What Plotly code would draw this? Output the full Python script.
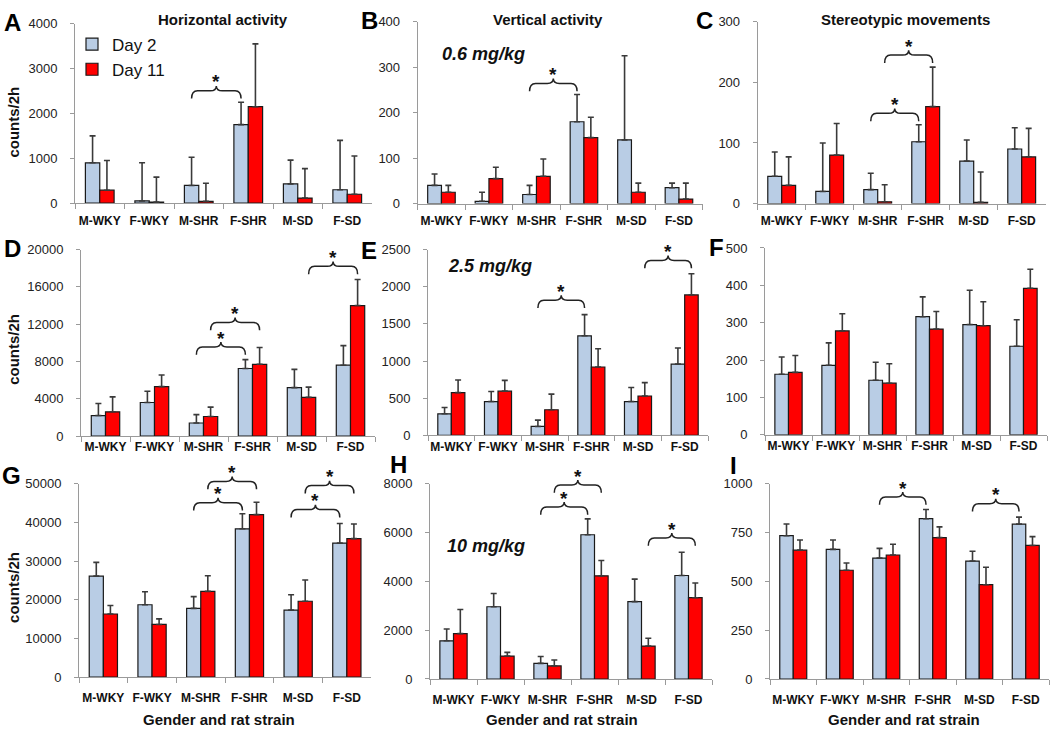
import plotly.graph_objects as go

# ---------------- data ----------------
categories = ["M-WKY", "F-WKY", "M-SHR", "F-SHR", "M-SD", "F-SD"]
series_names = ["Day 2", "Day 11"]

# A: Horizontal activity, 0.6 mg/kg
hor06_day2 = [900, 50, 395, 1750, 430, 300]
hor06_day2_err = [600, 850, 630, 500, 530, 1100]
hor06_day11 = [290, 25, 40, 2150, 115, 200]
hor06_day11_err = [660, 555, 405, 1400, 655, 850]

# B: Vertical activity, 0.6 mg/kg
ver06_day2 = [40, 5, 20, 180, 140, 35]
ver06_day2_err = [25, 20, 20, 60, 185, 10]
ver06_day11 = [25, 55, 60, 145, 25, 10]
ver06_day11_err = [15, 25, 38, 45, 20, 35]

# C: Stereotypic movements, 0.6 mg/kg
ste06_day2 = [45, 20, 23, 102, 70, 90]
ste06_day2_err = [40, 80, 27, 28, 35, 35]
ste06_day11 = [30, 80, 3, 160, 2, 77]
ste06_day11_err = [47, 52, 28, 65, 50, 47]

# D: Horizontal activity, 2.5 mg/kg
hor25_day2 = [2200, 3600, 1400, 7250, 5200, 7600]
hor25_day2_err = [1300, 1200, 900, 950, 1950, 2100]
hor25_day11 = [2600, 5300, 2100, 7700, 4150, 14000]
hor25_day11_err = [1600, 1250, 1000, 1800, 1100, 2800]

# E: Vertical activity, 2.5 mg/kg
ver25_day2 = [290, 455, 120, 1340, 455, 960]
ver25_day2_err = [85, 135, 85, 285, 190, 215]
ver25_day11 = [575, 595, 345, 920, 530, 1890]
ver25_day11_err = [170, 145, 210, 245, 180, 285]

# F: Stereotypic movements, 2.5 mg/kg
ste25_day2 = [162, 186, 146, 316, 295, 237]
ste25_day2_err = [46, 60, 48, 53, 92, 71]
ste25_day11 = [167, 278, 138, 283, 292, 392]
ste25_day11_err = [45, 46, 52, 47, 64, 51]

# G: Horizontal activity, 10 mg/kg
hor10_day2 = [26100, 18700, 17750, 38350, 17300, 34650]
hor10_day2_err = [3550, 3350, 3050, 3900, 4000, 5050]
hor10_day11 = [16300, 13600, 22150, 42000, 19600, 35800]
hor10_day11_err = [2200, 1450, 4050, 3200, 5500, 3800]

# H: Vertical activity, 10 mg/kg
ver10_day2 = [1565, 2960, 640, 5910, 3170, 4240]
ver10_day2_err = [480, 540, 280, 650, 920, 950]
ver10_day11 = [1860, 940, 535, 4225, 1350, 3330]
ver10_day11_err = [990, 150, 240, 630, 320, 600]

# I: Stereotypic movements, 10 mg/kg
ste10_day2 = [734, 664, 619, 821, 604, 793]
ste10_day2_err = [60, 48, 50, 47, 50, 36]
ste10_day11 = [660, 557, 635, 724, 483, 684]
ste10_day11_err = [52, 37, 55, 55, 89, 45]

y_max = {"A": 4000, "B": 400, "C": 300, "D": 20000, "E": 2500, "F": 500,
         "G": 50000, "H": 8000, "I": 1000}
y_step = {"A": 1000, "B": 100, "C": 100, "D": 4000, "E": 500, "F": 100,
          "G": 10000, "H": 2000, "I": 250}

panel_data = {
    "A": (hor06_day2, hor06_day2_err, hor06_day11, hor06_day11_err),
    "B": (ver06_day2, ver06_day2_err, ver06_day11, ver06_day11_err),
    "C": (ste06_day2, ste06_day2_err, ste06_day11, ste06_day11_err),
    "D": (hor25_day2, hor25_day2_err, hor25_day11, hor25_day11_err),
    "E": (ver25_day2, ver25_day2_err, ver25_day11, ver25_day11_err),
    "F": (ste25_day2, ste25_day2_err, ste25_day11, ste25_day11_err),
    "G": (hor10_day2, hor10_day2_err, hor10_day11, hor10_day11_err),
    "H": (ver10_day2, ver10_day2_err, ver10_day11, ver10_day11_err),
    "I": (ste10_day2, ste10_day2_err, ste10_day11, ste10_day11_err),
}

column_titles = ["Horizontal activity", "Vertical activity", "Stereotypic movements"]
dose_labels = ["0.6 mg/kg", "2.5 mg/kg", "10 mg/kg"]
y_title = "counts/2h"
x_title = "Gender and rat strain"

# significance comparisons: panel, (category, day) -> (category, day), level of brace ends
comparisons = [
    ("A", 2, 0, 3, 0, 2330),
    ("B", 2, 0, 3, 0, 247),
    ("C", 2, 0, 3, 0, 136), ("C", 2, 1, 3, 1, 232),
    ("D", 2, 0, 3, 0, 8720), ("D", 2, 1, 3, 1, 11350), ("D", 4, 1, 5, 1, 17370),
    ("E", 2, 0, 3, 0, 1714), ("E", 4, 1, 5, 1, 2250),
    ("G", 2, 0, 3, 0, 43080), ("G", 2, 1, 3, 1, 48580),
    ("G", 4, 0, 5, 0, 41300), ("G", 4, 1, 5, 1, 47500),
    ("H", 2, 0, 3, 0, 6730), ("H", 2, 1, 3, 1, 7630), ("H", 4, 1, 5, 1, 5460),
    ("I", 2, 0, 3, 0, 892), ("I", 4, 0, 5, 0, 858),
]

# ---------------- layout geometry (pixels) ----------------
W, H = 1050, 734
geo = {
    "A": (75, 372, 17, 200.3),
    "B": (417.7, 702.7, 15, 200.7),
    "C": (757.7, 1045.7, 15, 200.7),
    "D": (81, 375, 247.7, 438),
    "E": (428, 708, 247.7, 437.3),
    "F": (765, 1047, 246, 436.7),
    "G": (79, 371.2, 486.7, 684),
    "H": (430, 712, 486.7, 686),
    "I": (770, 1049, 486.7, 686),
}
label_standoff = {"A": 6, "B": 6, "C": 6, "D": 0, "E": 0, "F": 0,
                  "G": 10, "H": 10, "I": 10}
order = ["A", "B", "C", "D", "E", "F", "G", "H", "I"]

BLUE = "#B9CDE5"
RED = "#FF0000"
EDGE = "#1a1a1a"
ERRC = "#3a3a3a"
AXC = "#9a9a9a"
FONT = "Arial, Liberation Sans, sans-serif"
BARGAP = 0.42
HALF = (1 - BARGAP) / 4  # offset of each bar centre from category centre

fig = go.Figure()
layout_axes = {}

for n, key in enumerate(order, start=1):
    xa = "x" if n == 1 else f"x{n}"
    ya = "y" if n == 1 else f"y{n}"
    d2, d2e, d11, d11e = panel_data[key]
    for name, vals, errs, col in ((series_names[0], d2, d2e, BLUE),
                                  (series_names[1], d11, d11e, RED)):
        fig.add_trace(go.Bar(
            x=categories, y=vals, name=name, xaxis=xa, yaxis=ya,
            marker=dict(color=col, line=dict(color=EDGE, width=1.2)),
            error_y=dict(type="data", array=errs, symmetric=False,
                         arrayminus=[0] * len(errs), color=ERRC,
                         thickness=1.6, width=3),
            showlegend=(n == 1), legendgroup=name,
        ))
    x0, x1, yt, yb = geo[key]
    layout_axes["xaxis" if n == 1 else f"xaxis{n}"] = dict(
        domain=[x0 / W, x1 / W], anchor=ya, type="category",
        range=[-0.5, 5.5], showline=True, linecolor=AXC, linewidth=1,
        ticks="outside", tickson="boundaries", ticklen=5, tickcolor=AXC,
        tickangle=0, ticklabelstandoff=label_standoff[key],
        tickfont=dict(family=FONT, size=12, color="#111", weight="bold"),
        showgrid=False, zeroline=False, fixedrange=True,
    )
    layout_axes["yaxis" if n == 1 else f"yaxis{n}"] = dict(
        domain=[1 - yb / H, 1 - yt / H], anchor=xa,
        range=[0, y_max[key]], dtick=y_step[key], tick0=0, tickformat="d",
        showline=True, linecolor=AXC, linewidth=1,
        ticks="outside", ticklen=4, tickcolor=AXC,
        tickfont=dict(family=FONT, size=13, color="#222"),
        ticklabelstandoff=10,
        showgrid=False, zeroline=False, fixedrange=True,
    )


def data_px(key, xv, yv):
    x0, x1, yt, yb = geo[key]
    px = x0 + (xv + 0.5) / 6 * (x1 - x0)
    py = yb - yv / y_max[key] * (yb - yt)
    return px, py


def P(px, py):
    return f"{px / W:.5f},{1 - py / H:.5f}"


shapes = []
annotations = []
for key, c1, day1, c2, day2, level in comparisons:
    xl_v = c1 + (2 * day1 - 1) * HALF
    xr_v = c2 + (2 * day2 - 1) * HALF
    xl, yE = data_px(key, xl_v, level)
    xr, _ = data_px(key, xr_v, level)
    xm = (xl + xr) / 2
    yh = yE - 8
    yp = yh - 5
    r = 6
    path = (f"M{P(xl, yE)} Q{P(xl, yh)} {P(xl + r, yh)} L{P(xm - r, yh)} "
            f"Q{P(xm, yh)} {P(xm, yp)} Q{P(xm, yh)} {P(xm + r, yh)} "
            f"L{P(xr - r, yh)} Q{P(xr, yh)} {P(xr, yE)}")
    shapes.append(dict(type="path", path=path, xref="paper", yref="paper",
                       line=dict(color="#222", width=1.5)))
    annotations.append(dict(text="<b>*</b>", x=xm / W, y=1 - (yh - 9) / H,
                            xref="paper", yref="paper", showarrow=False,
                            xanchor="center", yanchor="middle",
                            font=dict(family=FONT, size=19, color="#111")))

# panel letters
letter_pos = {"A": (12, 16), "B": (369, 14), "C": (704, 14), "D": (12, 247),
              "E": (369, 249), "F": (716, 246), "G": (11, 478), "H": (398, 467),
              "I": (733, 468)}
for key, (px, py) in letter_pos.items():
    annotations.append(dict(text=f"<b>{key}</b>", x=px / W, y=1 - py / H,
                            xref="paper", yref="paper", showarrow=False,
                            xanchor="center", yanchor="middle",
                            font=dict(family=FONT, size=24, color="#000")))

# column titles
for t, px in zip(column_titles, (223, 547.5, 905)):
    annotations.append(dict(text=f"<b>{t}</b>", x=px / W, y=1 - 13 / H,
                            xref="paper", yref="paper", showarrow=False,
                            xanchor="center", yanchor="middle",
                            font=dict(family=FONT, size=15, color="#111")))

# dose labels
for t, (px, py) in zip(dose_labels, ((483.5, 48), (489.5, 264), (486, 550))):
    annotations.append(dict(text=f"<b><i>{t}</i></b>", x=px / W, y=1 - py / H,
                            xref="paper", yref="paper", showarrow=False,
                            xanchor="center", yanchor="middle",
                            font=dict(family=FONT, size=18, color="#111")))

# y-axis titles
for py in (118, 350, 593):
    annotations.append(dict(text=f"<b>{y_title}</b>", x=14 / W, y=1 - py / H,
                            xref="paper", yref="paper", showarrow=False,
                            textangle=-90, xanchor="center", yanchor="middle",
                            font=dict(family=FONT, size=15, color="#111")))

# x-axis titles
for px in (219, 562, 904):
    annotations.append(dict(text=f"<b>{x_title}</b>", x=px / W, y=1 - 727 / H,
                            xref="paper", yref="paper", showarrow=False,
                            xanchor="center", yanchor="middle",
                            font=dict(family=FONT, size=15, color="#111")))

fig.update_layout(
    width=W, height=H, margin=dict(l=0, r=0, t=0, b=0),
    paper_bgcolor="white", plot_bgcolor="white",
    barmode="group", bargap=BARGAP, bargroupgap=0,
    font=dict(family=FONT, color="#111"),
    showlegend=True,
    legend=dict(x=72 / W, y=1 - 20 / H, xanchor="left", yanchor="top",
                bgcolor="rgba(0,0,0,0)", font=dict(family=FONT, size=17, color="#111"),
                itemwidth=30, tracegroupgap=0),
    shapes=shapes, annotations=annotations,
    **layout_axes,
)

fig.write_html(
    "out.html",
    config={"displayModeBar": False},
    post_script="document.body.style.margin='0';document.body.style.overflow='hidden';",
)
